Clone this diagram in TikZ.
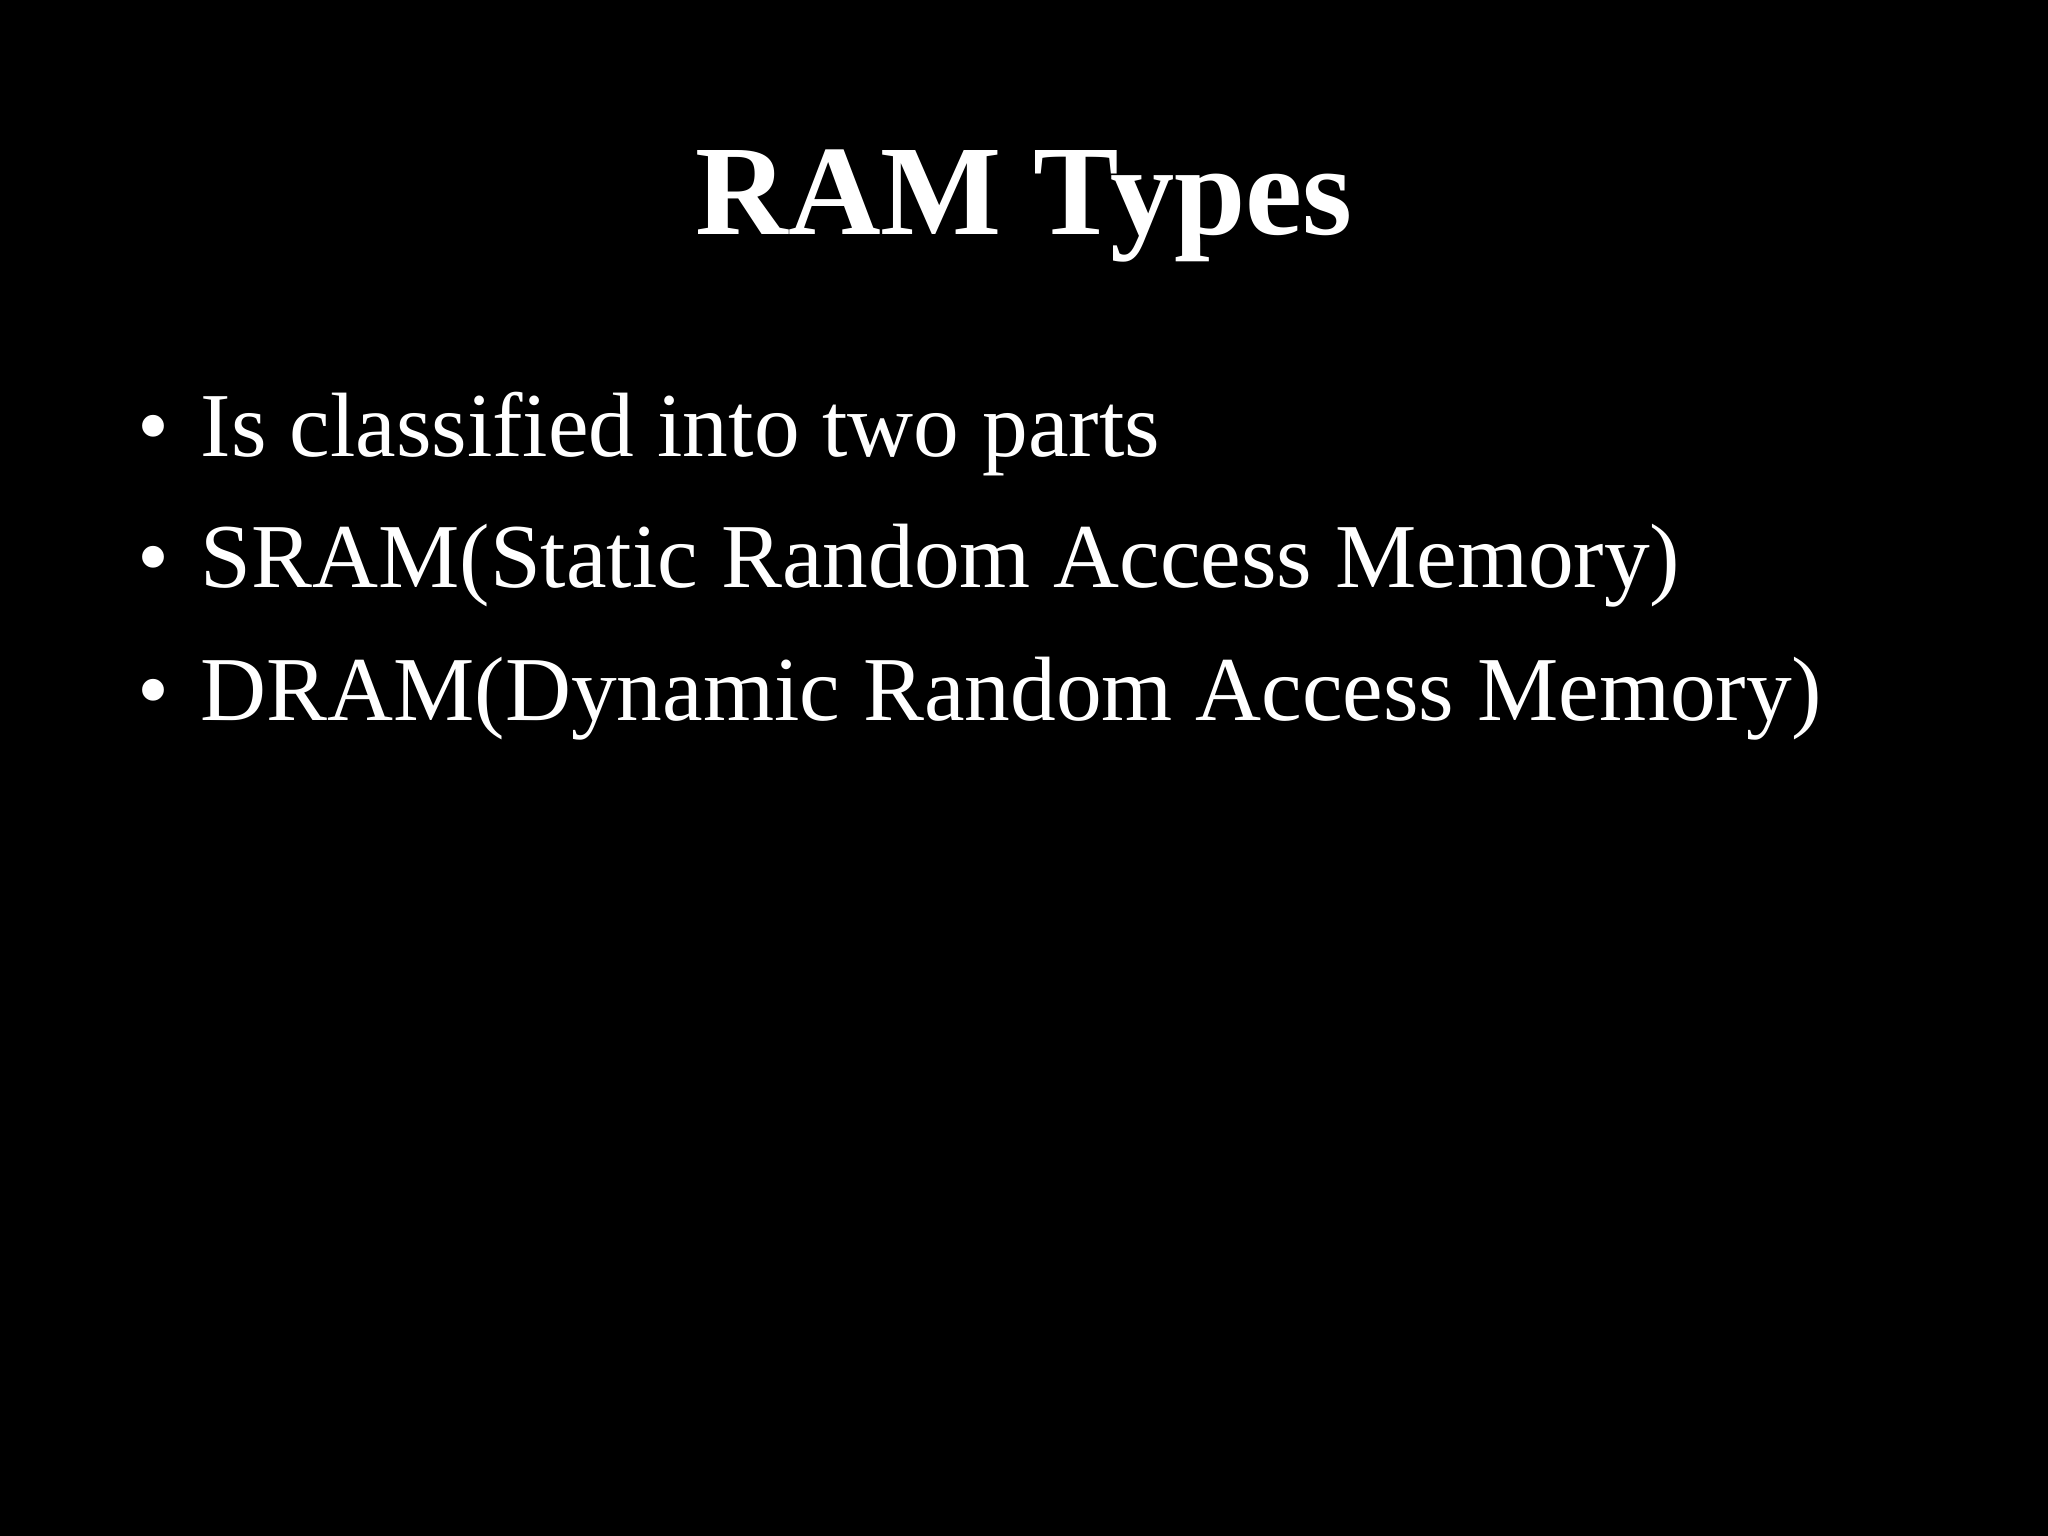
\documentclass[tikz,border=0pt]{standalone}
\usepackage{fontspec}
\setmainfont{Liberation Serif}
\begin{document}
\begin{tikzpicture}[x=1cm,y=1cm,
  txt/.style={text=white,inner sep=0pt,anchor=base west,font=\fontsize{26}{30}\selectfont}]
\fill[black] (0,0) rectangle (20.48,15.36);
\useasboundingbox (0,0) rectangle (20.48,15.36);
\node[text=white,inner sep=0pt,anchor=base,font=\fontsize{36.5}{42}\selectfont\bfseries] (title) at (10.24,13.01) {RAM Types};
\node[txt] (b1) at (1.37,10.79) {•};
\node[txt] (t1) at (2.0,10.79) {Is classified into two parts};
\node[txt] (b2) at (1.37,9.48) {•};
\node[txt] (t2) at (2.0,9.48) {SRAM(Static Random Access Memory)};
\node[txt] (b3) at (1.37,8.15) {•};
\node[txt] (t3) at (2.0,8.15) {DRAM(Dynamic Random Access Memory)};
\end{tikzpicture}
\end{document}
